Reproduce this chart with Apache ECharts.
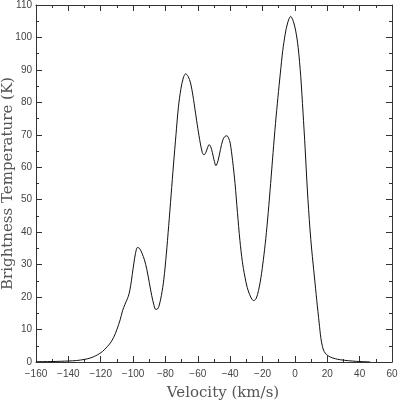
<!DOCTYPE html>
<html>
<head>
<meta charset="utf-8">
<script src="https://cdn.jsdelivr.net/npm/echarts@6/dist/echarts.min.js"></script>
<style>
  html, body { margin: 0; padding: 0; background: #fff; }
  #chart { width: 398px; height: 401px; }
</style>
</head>
<body>
<div id="chart"></div>
<script>
// spectrum
var velocity = [
  -160, -150, -140, -135, -130, -126, -122, -119, -116, -114,
  -112, -110, -108, -106.5, -105, -103.5, -102.5, -101.5, -100.5, -99.5,
  -98.5, -97.3, -96, -94.5, -93, -91.5, -90, -88.5, -87, -86,
  -85, -84, -82.5, -81, -79.5, -78, -76.5, -75, -73.5, -72,
  -70.5, -69, -67.5, -66, -64.5, -63, -61.5, -60, -58.5, -57.2,
  -56.2, -55, -54, -53, -52, -51, -50, -48.8, -47.5, -46,
  -44.5, -43, -42, -41, -40, -38.5, -37, -35.5, -34, -32.5,
  -31, -29.5, -28, -26.5, -25.5, -24, -22.5, -21, -19.5, -18,
  -16.5, -15, -13.5, -12, -10.5, -9, -7.5, -6, -4.5, -2.6,
  -1, 0.5, 2, 3.6, 5, 6.3, 7.7, 9.3, 10.4, 12,
  13.5, 15, 16, 17, 18, 19.5, 22, 25, 28, 33,
  38, 42, 46.5
];
var temperature = [
  0.1, 0.15, 0.3, 0.45, 0.8, 1.3, 2.2, 3.2, 4.7, 5.9,
  7.6, 10, 13, 15.8, 17.8, 19.5, 21, 23.5, 27, 30.5,
  33.5, 35.3, 35, 33.5, 31.5, 28.5, 24.5, 20.5, 17.3, 16.2,
  16.3, 17.2, 20.5, 25.5, 33, 42, 51.5, 61, 70, 78.5,
  84, 87.5, 88.8, 88, 86, 82, 77, 72, 67.5, 64.5,
  63.8, 64.6, 66, 67, 66.3, 64.5, 62.3, 60.5, 62, 65.5,
  68.5, 69.6, 69.7, 69, 67.5, 62, 55, 46, 37.5, 31,
  26.5, 23, 20.8, 19.3, 18.9, 19.5, 22, 26, 31.5, 38,
  46, 55, 64.5, 73.5, 81.5, 89, 96, 101, 104.5, 106.5,
  105, 102, 97, 88, 77, 66, 53, 41, 34.5, 26.5,
  19, 12, 7.5, 4.8, 3.3, 2.3, 1.5, 1.0, 0.7, 0.4,
  0.2, 0.1, 0.05
];
var xRange = [-160, 60];
var yRange = [0, 110];

var points = velocity.map(function (v, i) { return [v, temperature[i]]; });

var frameColor = '#333';
var labelStyle = { color: '#444', fontSize: 10, fontFamily: 'Liberation Sans, Arial, sans-serif' };
var nameStyle = { color: '#555', fontSize: 15, fontFamily: 'DejaVu Serif, serif' };

function xAxisOf(pos, showLabel) {
  return {
    type: 'value',
    position: pos,
    min: xRange[0],
    max: xRange[1],
    interval: 20,
    name: showLabel ? 'Velocity (km/s)' : '',
    nameLocation: 'middle',
    nameGap: 24,
    nameMoveOverlap: false,
    nameTextStyle: Object.assign({ padding: [0, 0, 0, 18] }, nameStyle),
    axisLine: { show: true, onZero: false, lineStyle: { color: frameColor, width: 1 } },
    axisTick: { show: true, inside: true, length: 6, lineStyle: { color: frameColor } },
    minorTick: { show: true, splitNumber: 2, length: 3, lineStyle: { color: frameColor } },
    axisLabel: Object.assign({
      show: showLabel,
      margin: 7,
      formatter: function (v) { return String(v).replace('-', '\u2212'); }
    }, labelStyle),
    splitLine: { show: false }
  };
}

function yAxisOf(pos, showLabel) {
  return {
    type: 'value',
    position: pos,
    min: yRange[0],
    max: yRange[1],
    interval: 10,
    name: showLabel ? 'Brightness Temperature (K)' : '',
    nameLocation: 'middle',
    nameGap: 20,
    nameMoveOverlap: false,
    nameTextStyle: nameStyle,
    axisLine: { show: true, onZero: false, lineStyle: { color: frameColor, width: 1 } },
    axisTick: { show: true, inside: true, length: 6, lineStyle: { color: frameColor } },
    minorTick: { show: true, splitNumber: 2, length: 3, lineStyle: { color: frameColor } },
    axisLabel: Object.assign({ show: showLabel, margin: 4 }, labelStyle),
    splitLine: { show: false }
  };
}

var option = {
  animation: false,
  backgroundColor: '#fff',
  grid: { left: 36, right: 6, top: 5, bottom: 39, containLabel: false, outerBoundsMode: 'none' },
  xAxis: [xAxisOf('bottom', true), xAxisOf('top', false)],
  yAxis: [yAxisOf('left', true), yAxisOf('right', false)],
  series: [
    {
      type: 'line',
      data: points,
      smooth: 0.3,
      showSymbol: false,
      lineStyle: { color: '#111', width: 1 },
      clip: true
    }
  ]
};

var myChart = echarts.init(document.getElementById('chart'), null, { renderer: 'canvas' });
myChart.setOption(option);
</script>
</body>
</html>
